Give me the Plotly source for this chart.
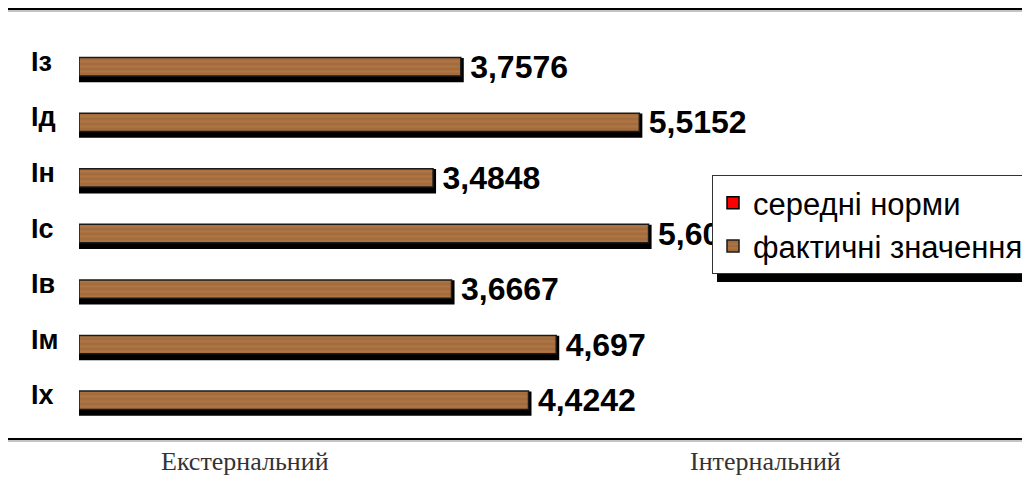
import plotly.graph_objects as go

categories = ["Із", "Ід", "Ін", "Іс", "Ів", "Ім", "Іх"]
actual_values = [3.7576, 5.5152, 3.4848, 5.6061, 3.6667, 4.697, 4.4242]
norm_values = [None, None, None, None, None, None, None]
series_names = ["середні норми", "фактичні значення"]
bottom_labels = ["Екстернальний", "Інтернальний"]

value_text = ["\u2009" + str(v).replace(".", ",") for v in actual_values]

# page offset (default body margin of the html page)
OX, OY = 8, 8
W, H = 1030, 498
# target pixel geometry in the screenshot
PLOT_LEFT, PLOT_TOP, PLOT_BOTTOM = 79, 39, 428
ML = PLOT_LEFT - OX
MT = PLOT_TOP - OY
MB = H - (PLOT_BOTTOM - OY)
MR = 0
PW = W - ML - MR
PH = H - MT - MB
PX_PER_UNIT = 101.6


def px_x(px):
    return (px - PLOT_LEFT) / PW


def px_y(py):
    return (PLOT_BOTTOM - py) / PH


fig = go.Figure()

# shadow bars
fig.add_trace(go.Bar(
    y=categories, x=actual_values, orientation="h",
    width=0.33, offset=-0.165 + 0.06,
    marker=dict(color="#000000", line=dict(color="#000000", width=6)),
    showlegend=False, hoverinfo="skip",
))

# legend-only red series
fig.add_trace(go.Bar(
    y=categories, x=norm_values, orientation="h", name=series_names[0],
    marker=dict(color="#ff0000", line=dict(color="#000000", width=1.5)),
    showlegend=True,
))

# main bars
fig.add_trace(go.Bar(
    y=categories, x=actual_values, orientation="h", name=series_names[1],
    width=0.33, offset=-0.165,
    marker=dict(
        color="#a56c3c",
        line=dict(color="#1a1a1a", width=1.5),
        pattern=dict(shape="-", fgcolor="#b8824e", bgcolor="#a46b3c",
                     size=5, solidity=0.4, fillmode="overlay"),
    ),
    text=value_text, textposition="outside", constraintext="none",
    cliponaxis=False,
    textfont=dict(family="Arial, Liberation Sans", size=32, color="#000000", weight="bold"),
))

# category labels as annotations (left aligned like the reference)
for c in categories:
    fig.add_annotation(
        x=px_x(29), xref="paper", y=c, yref="y", text="<b>%s</b>" % c,
        showarrow=False, xanchor="left", yanchor="middle", yshift=5,
        font=dict(family="Arial, Liberation Sans", size=27, color="#000000"),
    )

# bottom labels
for lab, cx in zip(bottom_labels, [245, 765]):
    fig.add_annotation(
        x=px_x(cx), xref="paper", y=px_y(461), yref="paper", text=lab,
        showarrow=False, xanchor="center", yanchor="middle",
        font=dict(family="Liberation Serif, Times New Roman, serif", size=26, color="#333333"),
    )

shapes = []
for ly in [9, 439]:
    shapes.append(dict(type="line", xref="paper", yref="paper",
                       x0=px_x(8), x1=px_x(1040), y0=px_y(ly + 2), y1=px_y(ly + 2),
                       line=dict(color="#b0b0b0", width=1.5)))
    shapes.append(dict(type="line", xref="paper", yref="paper",
                       x0=px_x(8), x1=px_x(1040), y0=px_y(ly), y1=px_y(ly),
                       line=dict(color="#000000", width=2)))
# legend shadow
shapes.append(dict(type="rect", xref="paper", yref="paper",
                   x0=px_x(717), x1=px_x(1045), y0=px_y(282), y1=px_y(270),
                   fillcolor="#000000", line=dict(width=0), layer="above"))

fig.update_layout(
    width=W, height=H,
    margin=dict(l=ML, r=MR, t=MT, b=MB, autoexpand=False),
    paper_bgcolor="#ffffff", plot_bgcolor="#ffffff",
    barmode="overlay",
    showlegend=True,
    legend=dict(
        x=px_x(712), y=px_y(175), xanchor="left", yanchor="top",
        bgcolor="#ffffff", bordercolor="#333333", borderwidth=1,
        font=dict(family="Arial, Liberation Sans", size=31, color="#000000"),
        traceorder="normal", itemwidth=30,
    ),
    xaxis=dict(range=[0, PW / PX_PER_UNIT], visible=False, showgrid=False, zeroline=False),
    yaxis=dict(categoryorder="array", categoryarray=categories, autorange="reversed",
               showticklabels=False, showgrid=False, zeroline=False, showline=False,
               ticks=""),
    shapes=shapes,
)

fig.write_html("out.html")
